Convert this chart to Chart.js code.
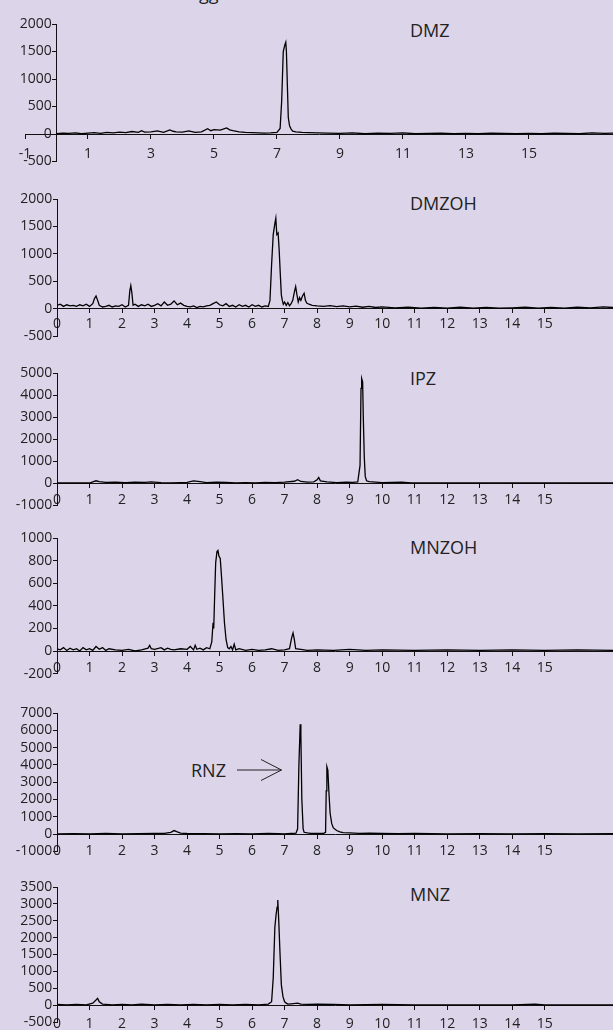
<!DOCTYPE html>
<html><head><meta charset="utf-8">
<script src="https://cdn.jsdelivr.net/npm/chart.js@4"></script>
<style>
html,body{margin:0;padding:0;background:#dcd5ea;width:613px;height:1030px;overflow:hidden;position:relative;font-family:'Open Sans',sans-serif;}
canvas{position:absolute;left:0;}
.lbl{position:absolute;font-size:18px;color:#222;line-height:18px;white-space:nowrap;}
svg{position:absolute;left:0;top:0;}
</style></head><body>
<div class="lbl" style="left:199px;top:-16px;">gg</div>
<div class="lbl" style="left:410px;top:21px;">DMZ</div>
<div class="lbl" style="left:410px;top:194px;">DMZOH</div>
<div class="lbl" style="left:410px;top:369px;">IPZ</div>
<div class="lbl" style="left:410px;top:538px;">MNZOH</div>
<div class="lbl" style="left:191px;top:761px;">RNZ</div>
<div class="lbl" style="left:410px;top:885px;">MNZ</div>
<svg width="613" height="1030"><path d="M237 770 L281.5 770 M261 759.5 L281.5 770 L261 780.5" stroke="#222" stroke-width="1" fill="none"/></svg>
<script>
// Tick labels
const xTicksOdd = [-1, 1, 3, 5, 7, 9, 11, 13, 15];
const xTicksAll = [0, 1, 2, 3, 4, 5, 6, 7, 8, 9, 10, 11, 12, 13, 14, 15];

// DMZ
const dmzT = [0,0.2,0.4,0.6,0.8,1.0,1.2,1.4,1.6,1.8,2.0,2.2,2.4,2.6,2.7,2.8,3.0,3.2,3.4,3.6,3.7,3.8,4.0,4.2,4.4,4.6,4.8,4.9,5.0,5.2,5.4,5.5,5.6,5.8,6.0,6.2,6.4,6.6,6.8,7.0,7.1,7.15,7.2,7.25,7.28,7.3,7.33,7.36,7.4,7.45,7.5,7.6,7.8,8.0,8.3,8.6,9.0,9.4,9.8,10.2,10.6,11.0,11.4,11.8,12.2,12.6,13.0,13.4,13.8,14.2,14.6,15.0,15.4,15.8,16.2,16.6,17.0,17.4,17.7];
const dmzV = [5,15,10,20,5,15,25,10,30,20,35,25,45,30,60,35,40,55,30,75,50,40,35,55,30,40,95,60,80,70,110,75,60,40,30,25,20,15,20,30,100,600,1500,1620,1670,1500,900,300,150,90,50,40,30,25,20,15,10,20,5,15,10,20,5,10,15,5,10,5,15,10,5,10,5,15,10,5,20,10,15];

// DMZOH
const dmzohT = [0,0.1,0.2,0.3,0.4,0.5,0.6,0.7,0.8,0.9,1.0,1.1,1.15,1.2,1.25,1.3,1.4,1.5,1.6,1.7,1.8,1.9,2.0,2.1,2.2,2.24,2.27,2.3,2.34,2.4,2.5,2.6,2.7,2.8,2.9,3.0,3.1,3.2,3.3,3.4,3.5,3.6,3.7,3.8,3.9,4.0,4.1,4.2,4.3,4.4,4.5,4.6,4.7,4.8,4.9,5.0,5.1,5.2,5.3,5.4,5.5,5.6,5.7,5.8,5.9,6.0,6.1,6.2,6.3,6.4,6.5,6.55,6.6,6.65,6.7,6.73,6.76,6.8,6.83,6.87,6.9,6.93,6.96,7.0,7.05,7.1,7.15,7.2,7.25,7.3,7.34,7.38,7.42,7.46,7.5,7.55,7.6,7.64,7.68,7.75,7.85,8.0,8.2,8.4,8.6,8.8,9.0,9.2,9.4,9.6,9.8,10.0,10.4,10.8,11.2,11.6,12.0,12.4,12.8,13.2,13.6,14.0,14.4,14.8,15.2,15.6,16.0,16.4,16.8,17.1];
const dmzohV = [60,80,40,70,50,60,40,70,50,80,40,90,180,230,150,60,30,40,60,30,50,40,70,30,60,330,420,300,60,80,40,70,50,80,40,60,90,50,120,60,80,140,70,100,60,40,30,50,20,40,30,50,60,90,120,70,50,90,40,60,30,70,40,60,30,70,40,60,30,50,40,150,800,1350,1550,1650,1350,1380,1100,600,250,150,80,120,60,110,50,90,150,300,400,250,120,200,150,230,280,150,100,80,60,50,40,55,35,50,30,45,25,40,20,30,15,25,10,20,10,25,10,20,10,15,25,10,20,10,25,15,30,20];

// IPZ
const ipzT = [0,0.5,1.0,1.1,1.2,1.3,1.5,1.8,2.1,2.4,2.7,2.9,3.2,3.5,3.8,4.0,4.2,4.4,4.6,4.9,5.2,5.5,5.8,6.1,6.4,6.7,7.0,7.3,7.4,7.5,7.7,7.9,8.0,8.05,8.1,8.3,8.6,8.9,9.1,9.25,9.32,9.35,9.37,9.4,9.42,9.45,9.48,9.52,9.6,9.8,10.0,10.3,10.6,10.9,11.5,12.5,13.5,14.5,15.5,16.5,17.1];
const ipzV = [0,10,0,50,100,60,30,40,20,40,30,50,20,10,20,30,100,60,20,40,30,10,20,10,30,20,40,80,150,70,40,50,150,250,100,50,20,40,30,50,800,4300,4750,4600,3000,1200,300,100,60,40,20,30,40,10,5,0,5,0,5,0,0];

// MNZOH
const mnzohT = [0,0.1,0.2,0.3,0.4,0.5,0.6,0.7,0.8,0.9,1.0,1.1,1.2,1.3,1.4,1.5,1.6,1.8,2.0,2.2,2.4,2.6,2.8,2.85,2.9,3.0,3.2,3.3,3.4,3.5,3.6,3.8,4.0,4.1,4.2,4.25,4.3,4.4,4.5,4.6,4.7,4.76,4.8,4.82,4.85,4.88,4.92,4.95,4.98,5.02,5.05,5.1,5.15,5.2,5.25,5.3,5.35,5.4,5.45,5.5,5.6,5.8,6.0,6.2,6.4,6.6,6.8,7.0,7.15,7.22,7.26,7.3,7.34,7.5,7.7,8.0,8.5,9.0,9.5,10.0,11.0,12.0,13.0,14.0,15.0,16.0,17.1];
const mnzohV = [20,10,30,5,25,10,20,0,30,10,20,5,40,15,30,5,20,10,5,15,0,10,25,50,20,15,30,10,25,15,10,20,15,40,10,50,15,25,10,30,20,80,250,200,500,780,880,890,840,820,700,480,250,100,30,20,40,10,60,10,20,5,15,5,10,20,5,10,20,120,160,100,20,15,5,10,5,15,5,10,5,10,5,10,5,10,5];

// RNZ
const rnzT = [0,0.5,1.0,1.5,2.0,2.5,3.0,3.3,3.5,3.6,3.7,3.8,4.0,4.5,5.0,5.5,6.0,6.5,6.8,7.0,7.2,7.35,7.4,7.44,7.48,7.5,7.53,7.57,7.6,7.7,7.8,8.0,8.2,8.26,8.28,8.3,8.33,8.36,8.4,8.45,8.5,8.6,8.7,8.8,9.0,9.3,9.6,10.0,10.5,11.0,12.0,13.0,14.0,15.0,16.0,17.1];
const rnzV = [0,20,0,30,10,20,30,40,100,200,120,50,30,20,10,20,10,40,20,10,30,50,300,4000,6350,5800,2000,300,100,60,40,30,40,100,2500,3900,3700,2500,1200,600,350,200,120,80,60,40,50,30,20,30,10,20,10,20,10,20];

// MNZ
const mnzT = [0,0.3,0.6,0.9,1.1,1.2,1.25,1.3,1.4,1.7,2.0,2.3,2.6,3.0,3.4,3.8,4.2,4.6,5.0,5.4,5.8,6.2,6.5,6.6,6.65,6.7,6.74,6.77,6.79,6.82,6.86,6.9,6.95,7.0,7.05,7.1,7.2,7.4,7.5,7.7,8.0,8.5,9.0,10.0,11.0,12.0,13.0,14.0,14.7,15.0,16.0,17.1];
const mnzV = [20,10,25,10,60,150,200,100,30,10,20,10,30,10,20,10,20,10,20,10,20,10,30,100,800,2300,2700,2900,3115,2500,1500,600,250,100,60,30,40,60,30,20,30,20,10,20,10,10,5,10,30,10,5,10];

const panels = [
  {t: dmzT, v: dmzV, yMin: -500, yMax: 2000, yStep: 500, xMin: -1, xMax: 17.67, xTicks: xTicksOdd, top: 24, bottom: 161.5, left: 25, xPad: 8},
  {t: dmzohT, v: dmzohV, yMin: -500, yMax: 2000, yStep: 500, xMin: 0, xMax: 17.1, xTicks: xTicksAll, top: 199, bottom: 336, left: 57, xPad: 3},
  {t: ipzT, v: ipzV, yMin: -1000, yMax: 5000, yStep: 1000, xMin: 0, xMax: 17.1, xTicks: xTicksAll, top: 373, bottom: 505, left: 57, xPad: 5},
  {t: mnzohT, v: mnzohV, yMin: -200, yMax: 1000, yStep: 200, xMin: 0, xMax: 17.1, xTicks: xTicksAll, top: 538, bottom: 673.6, left: 57, xPad: 5},
  {t: rnzT, v: rnzV, yMin: -1000, yMax: 7000, yStep: 1000, xMin: 0, xMax: 17.1, xTicks: xTicksAll, top: 713, bottom: 851.3, left: 57, xPad: 5},
  {t: mnzT, v: mnzV, yMin: -500, yMax: 3500, yStep: 500, xMin: 0, xMax: 17.1, xTicks: xTicksAll, top: 887, bottom: 1022, left: 57, xPad: 6}
];

const padT = 12, padB = 22;
const font = {family: "'Open Sans', sans-serif", size: 14};
panels.forEach(p => {
  const c = document.createElement('canvas');
  const h = Math.round(p.bottom - p.top) + padT + padB;
  c.width = 613; c.height = h;
  c.style.top = (p.top - padT) + 'px';
  c.style.width = '613px'; c.style.height = h + 'px';
  document.body.appendChild(c);
  new Chart(c, {
    type: 'line',
    data: {datasets: [{data: p.t.map((x, i) => ({x: x, y: p.v[i]})), borderColor: '#000', borderWidth: 1.3, pointRadius: 0, tension: 0, fill: false}]},
    options: {
      responsive: false, animation: false, events: [],
      layout: {padding: {left: p.left, right: 0, top: padT, bottom: h - padT - (p.bottom - p.top)}},
      plugins: {legend: {display: false}, tooltip: {enabled: false}},
      scales: {
        x: {
          type: 'linear', min: p.xMin, max: p.xMax, position: {y: 0},
          afterBuildTicks: s => { s.ticks = p.xTicks.map(v => ({value: v})); },
          grid: {display: true, drawOnChartArea: false, drawTicks: true, tickLength: 4, color: '#111'},
          border: {display: true, color: '#111', width: 1},
          ticks: {font: font, color: '#222', padding: p.xPad, maxRotation: 0, autoSkip: false, callback: v => String(v)}
        },
        y: {
          type: 'linear', min: p.yMin, max: p.yMax, position: {x: 0},
          grid: {display: true, drawOnChartArea: false, drawTicks: true, tickLength: 4, color: '#111'},
          border: {display: true, color: '#111', width: 1},
          ticks: {stepSize: p.yStep, font: font, color: '#222', autoSkip: false, callback: v => String(v) + '\u2009\u2009'}
        }
      }
    }
  });
});
</script>
</body></html>
